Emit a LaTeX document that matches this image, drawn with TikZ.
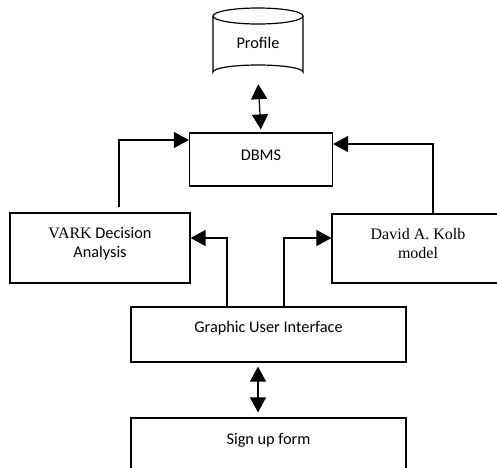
\documentclass[tikz,border=0pt]{standalone}
\usepackage{fontspec}
\setmainfont{Liberation Serif}
\newfontfamily\calib{Carlito}
\usetikzlibrary{arrows.meta}
\tikzset{
  box/.style={draw, line width=1.2pt, rectangle, inner sep=0pt},
  lbl/.style={inner sep=0pt, font=\calib\fontsize{16.3}{19}\selectfont, align=center},
  slbl/.style={inner sep=0pt, font=\fontsize{16}{19}\selectfont, align=center},
  tip/.tip={Triangle[length=15pt,width=16pt]},
  conn/.style={line width=1.2pt, -tip},
  dconn/.style={line width=1.2pt, tip-tip}
}
\begin{document}
\begin{tikzpicture}[x=1pt,y=-1pt]
\useasboundingbox (0,0) rectangle (497,467);
\clip (0,0) rectangle (497,467);
% Profile cylinder
\draw[line width=1.2pt] (213,16) -- (213,72) arc[start angle=180,end angle=360,x radius=45,y radius=7] -- (303,16);
\draw[line width=1.2pt] (258,16) ellipse[x radius=45,y radius=8];
\node[inner sep=0pt, minimum width=90pt, minimum height=70pt] (profile) at (258,44) {};
\node[lbl] (profileT) at (258,43) {Profile};
% boxes
\node[box, minimum width=143pt, minimum height=53pt] (dbms) at (261,159.5) {};
\node[lbl] (dbmsT) at (261,155) {DBMS};
\node[box, minimum width=180pt, minimum height=70pt] (vark) at (100,248) {};
\node[lbl] (varkT) at (100,243.5) {{\rmfamily\fontsize{16}{19}\selectfont VARK} Decision\\ Analysis};
\node[box, minimum width=200pt, minimum height=69pt] (kolb) at (432,248.5) {};
\node[slbl] (kolbT) at (418,243.5) {David A. Kolb\\ model};
\node[box, minimum width=275pt, minimum height=55pt] (gui) at (268.5,334.5) {};
\node[lbl] (guiT) at (268.5,328) {Graphic User Interface};
\node[box, minimum width=275pt, minimum height=70pt] (signup) at (268.5,453) {};
\node[lbl] (signupT) at (268.5,440) {Sign up form};
% connectors
\draw[dconn, shorten <=5pt, shorten >=3pt] (profile.south) -- (dbms.north);
\draw[conn, shorten <=5pt] (vark.north -| 119,0) |- (dbms.west |- 0,140);
\draw[conn] (kolb.north -| 433,0) |- (dbms.east |- 0,144);
\draw[conn] (gui.north -| 227,0) |- (vark.east |- 0,238);
\draw[conn] (gui.north -| 284,0) |- (kolb.west |- 0,238);
\draw[dconn, shorten <=4pt, shorten >=5pt] (gui.south -| 258,0) -- (signup.north -| 258,0);
\end{tikzpicture}
\end{document}
